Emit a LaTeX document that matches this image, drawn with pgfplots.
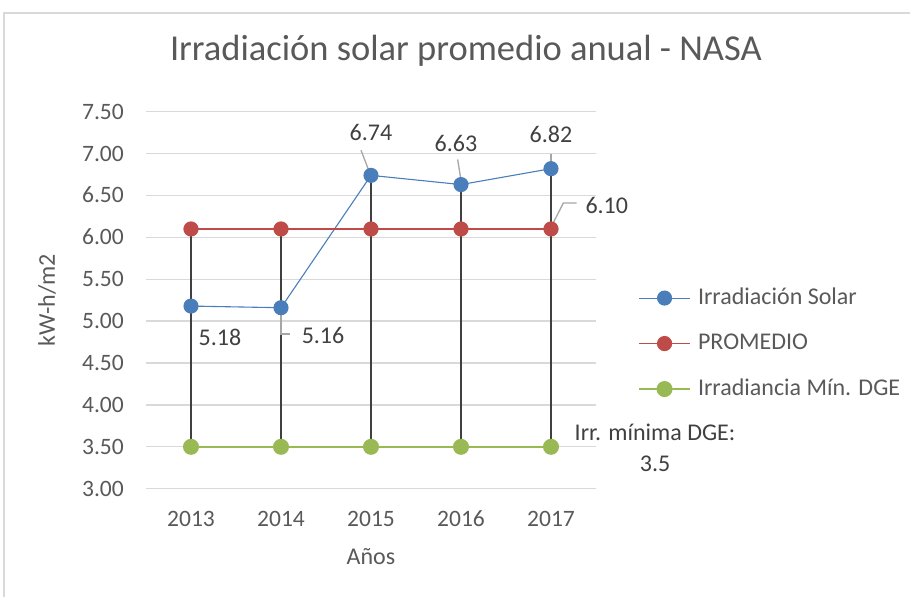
\documentclass[border=0pt]{standalone}
\usepackage{pgfplots}
\pgfplotsset{compat=1.18}
\usepackage{fontspec}
\setmainfont{Carlito}
\definecolor{solar}{HTML}{4A7EBB}
\definecolor{prom}{HTML}{BE4B48}
\definecolor{dge}{HTML}{98B954}
\definecolor{txt}{HTML}{595959}
\definecolor{lbl}{HTML}{404040}
\definecolor{grd}{HTML}{D9D9D9}
\definecolor{lead}{HTML}{A6A6A6}
\newcommand\fs{\fontsize{24bp}{31bp}\selectfont}
\newcommand\fst{\fontsize{23.5bp}{30bp}\selectfont}
\begin{document}
\begin{tikzpicture}
\useasboundingbox (0,0) rectangle (910bp,597bp);
\draw[grd, line width=1.5bp] (4bp,0) -- (4bp,584bp) -- (910bp,584bp);
\begin{axis}[at={(146bp,108.3bp)}, anchor=south west, scale only axis,
  width=450bp, height=377bp, clip=false,
  xmin=-0.5, xmax=4.5, ymin=3, ymax=7.5,
  xtick={0,1,2,3,4}, xticklabels={2013,2014,2015,2016,2017},
  ytick={3,3.5,4,4.5,5,5.5,6,6.5,7,7.5},
  yticklabel style={/pgf/number format/fixed, /pgf/number format/fixed zerofill, /pgf/number format/precision=2, xshift=-22bp},
  /pgf/number format/assume math mode=true,
  tick label style={font=\fst, text=txt, inner sep=0pt, text height=15bp, text depth=0pt},
  xticklabel style={yshift=-23bp},
  major tick length=0pt, axis line style={draw=none},
  ymajorgrids, grid style={grd, line width=1.3bp},
  title={Irradiación solar promedio anual - NASA},
  title style={font=\fontsize{36.5bp}{42bp}\selectfont, text=txt, at={(axis description cs:0.711,1.145)}, anchor=center},
  xlabel={Años}, xlabel style={font=\fs, text=txt, at={(axis description cs:0.5,-0.18)}, anchor=center},
  ylabel={kW-h/m2}, ylabel style={font=\fs, text=txt, at={(axis description cs:-0.22,0.5)}, anchor=center},
  legend style={at={(axis description cs:1.093,0.385)}, anchor=west, draw=none, fill=none,
    font=\fs, text=txt, inner sep=0pt, row sep=23.5bp,
    nodes={inner sep=0pt, text height=17bp, text depth=5bp}},
  legend cell align=left,
  legend image code/.code={\draw[mark repeat=2, mark phase=2, #1] plot coordinates {(0bp,0bp)(25.5bp,0bp)(51bp,0bp)}; \path (58bp,0bp);},
]
\addplot[solar, line width=1.1bp, mark=*, mark size=7bp, mark options={solid, fill=solar, draw=solar}]
  coordinates {(0,5.18)(1,5.16)(2,6.74)(3,6.63)(4,6.82)};
\addlegendentry{Irradiación Solar}
\addplot[prom, line width=1.2bp, mark=*, mark size=7bp, mark options={solid, fill=prom, draw=prom}]
  coordinates {(0,6.10)(1,6.10)(2,6.10)(3,6.10)(4,6.10)};
\addlegendentry{PROMEDIO}
\addplot[dge, line width=2bp, mark=*, mark size=7bp, mark options={solid, fill=dge, draw=dge}]
  coordinates {(0,3.5)(1,3.5)(2,3.5)(3,3.5)(4,3.5)};
\addlegendentry{Irradiancia Mín. DGE}
% hi-lo lines
\addplot[lbl, line width=2.2bp, forget plot] coordinates {(0,3.5)(0,6.10)};
\addplot[lbl, line width=2.2bp, forget plot] coordinates {(1,3.5)(1,6.10)};
\addplot[lbl, line width=2.2bp, forget plot] coordinates {(2,3.5)(2,6.74)};
\addplot[lbl, line width=2.2bp, forget plot] coordinates {(3,3.5)(3,6.63)};
\addplot[lbl, line width=2.2bp, forget plot] coordinates {(4,3.5)(4,6.82)};
% data labels
\begin{scope}[every node/.style={font=\fs, text=lbl, inner sep=0pt}]
\node at (axis cs:0.322,4.81) {5.18};
\draw[lead, line width=1.3bp] (axis cs:1,5.14) -- (axis cs:1,4.845) -- (axis cs:1.1,4.845);
\node at (axis cs:1.467,4.834) {5.16};
\draw[lead, line width=1.3bp] (axis cs:1.889,7.04) -- (axis cs:1.989,6.76);
\node at (axis cs:2,7.257) {6.74};
\draw[lead, line width=1.3bp] (axis cs:2.963,6.93) -- (axis cs:3.0,6.68);
\node at (axis cs:2.944,7.125) {6.63};
\draw[lead, line width=1.3bp] (axis cs:4,7.0) -- (axis cs:4,6.83);
\node at (axis cs:4,7.23) {6.82};
\draw[lead, line width=1.3bp] (axis cs:4,6.12) -- (axis cs:4.137,6.41) -- (axis cs:4.286,6.41);
\node at (axis cs:4.62,6.383) {6.10};
\node[align=center] at (axis cs:5.156,3.486) {Irr. mínima DGE:\\3.5};
\end{scope}
\end{axis}
\end{tikzpicture}
\end{document}
